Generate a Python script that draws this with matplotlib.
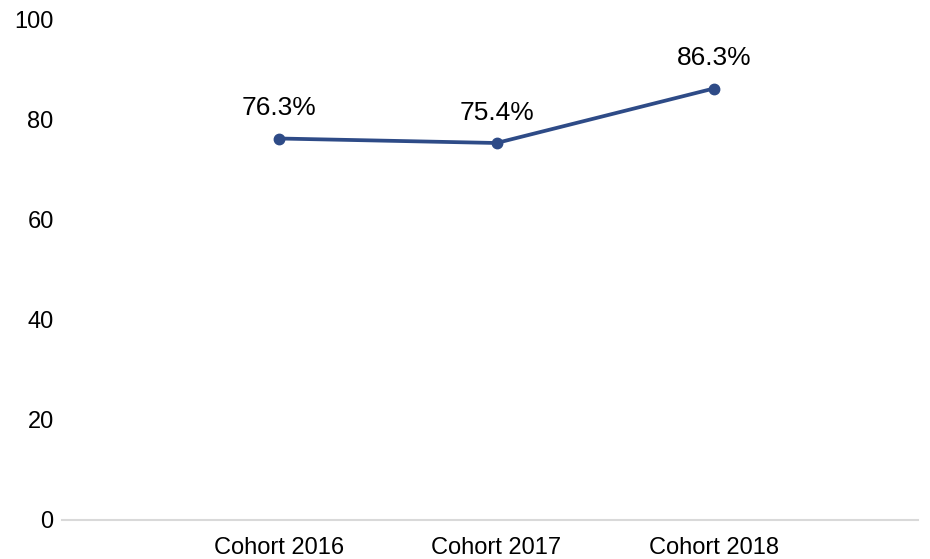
import matplotlib.pyplot as plt
import numpy as np

plt.rcParams['font.family'] = ['Liberation Sans', 'DejaVu Sans']

# Dades
cohorts = ['Cohort 2016', 'Cohort 2017', 'Cohort 2018']
valors = [76.3, 75.4, 86.3]
etiquetes = ['76.3%', '75.4%', '86.3%']

color_linia = '#2E4B87'

fig = plt.figure(figsize=(9.3, 5.59), dpi=100)
ax = fig.add_axes([62/930, 39/559, 856/930, 500/559])

x = np.arange(len(cohorts))
ax.plot(x, valors, color=color_linia, linewidth=2.7, marker='o', markersize=7.5)

for xi, v, t in zip(x, valors, etiquetes):
    ax.annotate(t, (xi, v), xytext=(0, 13), textcoords='offset points',
                ha='center', va='bottom', fontsize=19)

ax.set_xlim(-1, 2.94)
ax.set_ylim(0, 100)
ax.set_yticks(np.arange(0, 101, 20))
ax.set_xticks(x, cohorts)

for s in ['top', 'right', 'left']:
    ax.spines[s].set_visible(False)
ax.spines['bottom'].set_color('#d9d9d9')
ax.spines['bottom'].set_linewidth(1.5)

ax.tick_params(axis='y', length=0, pad=6, labelsize=17)
ax.tick_params(axis='x', length=0, pad=12, labelsize=17)

plt.savefig('out.png', dpi=100)
